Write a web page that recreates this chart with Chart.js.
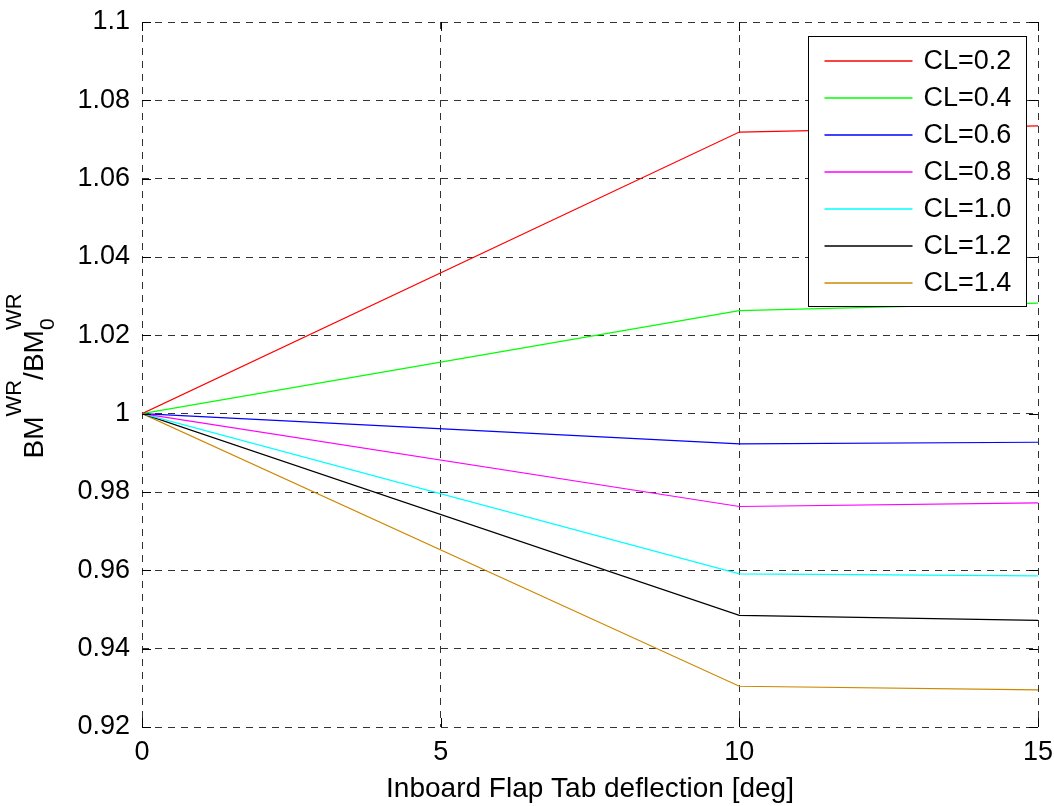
<!DOCTYPE html>
<html>
<head>
<meta charset="utf-8">
<script src="https://cdn.jsdelivr.net/npm/chart.js@4.4.1/dist/chart.umd.min.js"></script>
<style>
  html, body { margin: 0; padding: 0; background: #fff; }
  #wrap { width: 1054px; height: 806px; position: relative; }
</style>
</head>
<body>
<div id="wrap"><canvas id="grafico"></canvas></div>
<script>
// deflexao do flap tab [deg]
const deflexoes = [0, 10, 15];
const rotulos = ['CL=0.2', 'CL=0.4', 'CL=0.6', 'CL=0.8', 'CL=1.0', 'CL=1.2', 'CL=1.4'];
const cores = ['#ff0000', '#00ff00', '#0000ff', '#ff00ff', '#00ffff', '#000000', '#cc8800'];

// BM^WR / BM_0^WR
const cl02 = [1, 1.0719, 1.0735];
const cl04 = [1, 1.0263, 1.0282];
const cl06 = [1, 0.9923, 0.9927];
const cl08 = [1, 0.9763, 0.9772];
const cl10 = [1, 0.9591, 0.9586];
const cl12 = [1, 0.9485, 0.9472];
const cl14 = [1, 0.9304, 0.9295];
const series = [cl02, cl04, cl06, cl08, cl10, cl12, cl14];

const yTicks = [0.92, 0.94, 0.96, 0.98, 1, 1.02, 1.04, 1.06, 1.08, 1.1];
const xTicks = [0, 5, 10, 15];

const fonte = 'Liberation Sans, Arial, Helvetica, sans-serif';
const tamFonte = 27;

const datasets = series.map((valores, i) => ({
    label: rotulos[i],
    data: deflexoes.map((x, j) => ({ x: x, y: valores[j] })),
    borderColor: cores[i],
    backgroundColor: cores[i],
    borderWidth: 1.2,
    pointRadius: 0,
    tension: 0,
}));

// caixa, ticks internos, legenda e titulo do eixo y (estilo matlab)
const estiloMatlab = {
    id: 'estiloMatlab',
    afterDraw(chart) {
        const ctx = chart.ctx;
        const area = chart.chartArea;
        const sx = chart.scales.x;
        const sy = chart.scales.y;
        const tick = 9;

        ctx.save();
        ctx.strokeStyle = '#000';
        ctx.lineWidth = 1;
        ctx.beginPath();
        yTicks.forEach(v => {
            const py = Math.round(sy.getPixelForValue(v)) + 0.5;
            ctx.moveTo(area.left, py); ctx.lineTo(area.left + tick, py);
            ctx.moveTo(area.right, py); ctx.lineTo(area.right - tick, py);
        });
        xTicks.forEach(v => {
            const px = Math.round(sx.getPixelForValue(v)) + 0.5;
            ctx.moveTo(px, area.bottom); ctx.lineTo(px, area.bottom - tick);
            ctx.moveTo(px, area.top); ctx.lineTo(px, area.top + tick);
        });
        ctx.stroke();

        // legenda
        ctx.font = tamFonte + 'px ' + fonte;
        let larguraTexto = 0;
        chart.data.datasets.forEach(ds => {
            larguraTexto = Math.max(larguraTexto, ctx.measureText(ds.label).width);
        });
        const linhaLen = 88;
        const w = Math.round(16 + linhaLen + 11 + larguraTexto + 15);
        const rowH = 37;
        const n = chart.data.datasets.length;
        const h = 24 * 2 + (n - 1) * rowH;
        const bx = Math.round(area.right - 12 - w) + 0.5;
        const by = Math.round(area.top + 14) + 0.5;
        ctx.fillStyle = '#fff';
        ctx.fillRect(bx, by, w, h);
        ctx.strokeStyle = '#000';
        ctx.strokeRect(bx, by, w, h);
        ctx.textBaseline = 'middle';
        ctx.textAlign = 'left';
        chart.data.datasets.forEach((ds, i) => {
            const cy = Math.round(by + 24 + i * rowH);
            ctx.lineWidth = 1.4;
            ctx.strokeStyle = cores[i];
            ctx.beginPath();
            ctx.moveTo(bx + 16, cy);
            ctx.lineTo(bx + 16 + linhaLen, cy);
            ctx.stroke();
            ctx.fillStyle = '#000';
            ctx.fillText(ds.label, bx + 16 + linhaLen + 11, cy + 1);
        });

        // titulo do eixo y: BM^WR / BM_0^WR
        const partes = [
            { t: 'BM', tam: 28, dy: 0 },
            { t: 'WR', tam: 22, dy: -22 },
            { t: '/BM', tam: 28, dy: 0 },
            { t: '0', tam: 21, dy: 11, sub: true },
            { t: 'WR', tam: 22, dy: -22 },
        ];
        let total = 0;
        partes.forEach(p => {
            ctx.font = p.tam + 'px ' + fonte;
            p.w = ctx.measureText(p.t).width;
            if (!p.sub) total += p.w;
        });
        ctx.translate(43, 376);
        ctx.rotate(-Math.PI / 2);
        ctx.fillStyle = '#000';
        ctx.textBaseline = 'alphabetic';
        let cx = -total / 2;
        partes.forEach(p => {
            ctx.font = p.tam + 'px ' + fonte;
            ctx.fillText(p.t, cx, p.dy);
            if (!p.sub) cx += p.w;
        });
        ctx.restore();
    }
};

const config = {
    type: 'line',
    data: { datasets: datasets },
    options: {
        responsive: true,
        maintainAspectRatio: false,
        animation: false,
        layout: { padding: { top: 22, right: 16, left: 0, bottom: 0 } },
        plugins: {
            legend: { display: false },
            tooltip: { enabled: false },
        },
        scales: {
            x: {
                type: 'linear',
                min: 0,
                max: 15,
                afterBuildTicks: scale => { scale.ticks = xTicks.map(v => ({ value: v })); },
                afterFit: scale => {
                    scale.height = 79;
                    scale.paddingLeft = 0;
                    scale.paddingRight = 0;
                },
                ticks: {
                    color: '#000',
                    font: { family: fonte, size: tamFonte },
                    padding: 9,
                    maxRotation: 0,
                },
                grid: {
                    color: '#333',
                    lineWidth: 1,
                    drawTicks: false,
                },
                border: { display: false, dash: [7, 6] },
                title: {
                    display: true,
                    text: 'Inboard Flap Tab deflection [deg]',
                    color: '#000',
                    font: { family: fonte, size: 28, lineHeight: 1.2 },
                    padding: { top: 0, bottom: 0 },
                },
            },
            y: {
                min: 0.92,
                max: 1.1,
                afterBuildTicks: scale => { scale.ticks = yTicks.map(v => ({ value: v })); },
                afterFit: scale => {
                    scale.width = 142;
                    scale.paddingTop = 0;
                    scale.paddingBottom = 0;
                },
                ticks: {
                    color: '#000',
                    font: { family: fonte, size: tamFonte },
                    padding: 12,
                    callback: v => Number(v.toFixed(2)).toString(),
                },
                grid: {
                    color: '#333',
                    lineWidth: 1,
                    drawTicks: false,
                },
                border: { display: false, dash: [7, 6] },
            },
        },
    },
    plugins: [estiloMatlab],
};

new Chart(document.getElementById('grafico'), config);
</script>
</body>
</html>
